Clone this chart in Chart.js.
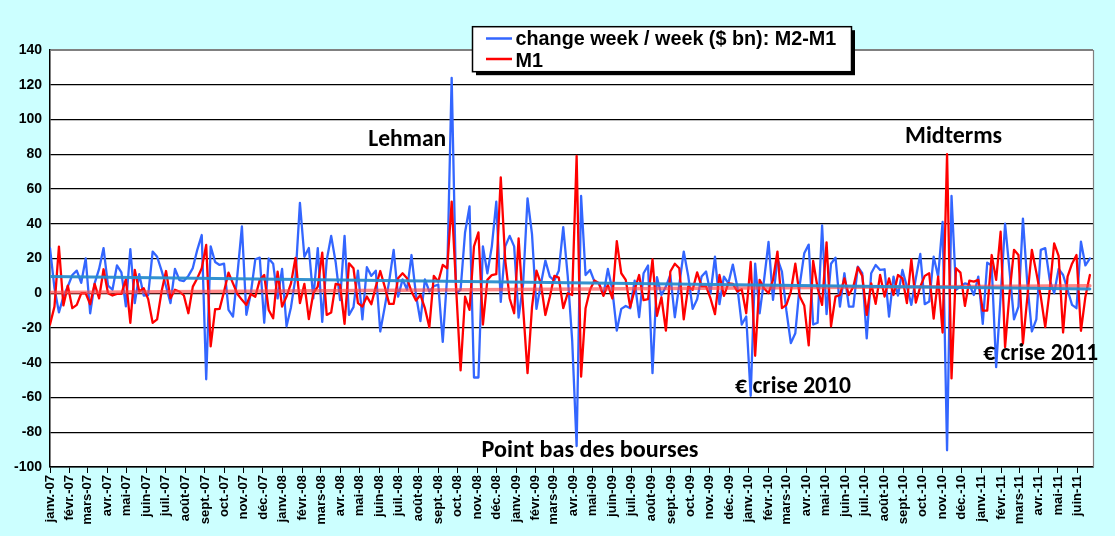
<!DOCTYPE html>
<html><head><meta charset="utf-8">
<script src="https://cdn.jsdelivr.net/npm/chart.js@4.4.0/dist/chart.umd.min.js"></script>
<style>html,body{margin:0;padding:0;background:#CCFFFF;}canvas{display:block;}</style>
</head><body>
<canvas id="c" width="1115" height="536" style="width:1115px;height:536px"></canvas>
<script>
// Month tick labels (x axis), weekly observations start 1 Jan 2007
const monthLabels = ["janv.-07","févr.-07","mars-07","avr.-07","mai-07","juin-07","juil.-07","août-07","sept.-07","oct.-07","nov.-07","déc.-07",
"janv.-08","févr.-08","mars-08","avr.-08","mai-08","juin-08","juil.-08","août-08","sept.-08","oct.-08","nov.-08","déc.-08",
"janv.-09","févr.-09","mars-09","avr.-09","mai-09","juin-09","juil.-09","août-09","sept.-09","oct.-09","nov.-09","déc.-09",
"janv.-10","févr.-10","mars-10","avr.-10","mai-10","juin-10","juil.-10","août-10","sept.-10","oct.-10","nov.-10","déc.-10",
"janv.-11","févr.-11","mars-11","avr.-11","mai-11","juin-11"];
const startYear = 2007;

// change week / week ($ bn): M2-M1
const m2m1 = [
26,3,-11,-2,4,10.5,13,6,20,-11.5,
5.7,14,26,4.4,2,16,12,-7.6,25.4,-5.7,
11,-1.3,-1,24,21,13,4,-5.7,14,7.6,
7,10,14.5,25,33.5,-49.5,27,18,16.3,17,
-9.6,-13.4,11,38.5,-12.4,0,19.5,20.5,-17,20,
17,-3,14,-19,-8,9,52,21,26,-3,
26,-16.5,19,33,18,-4,33,-12.5,-8,13,
-15,15,10,13,-22,-8,7,25,-2,8,
2,22,-1,-16,8,1,4,5,-28,10,
124,0,2,35,50,-48.5,-48.5,27,11.5,27,
52.7,-5,27,33,27,-14,5,54.6,34,-9,
5.4,18.8,9.6,7.3,13,38,10,-27,-88,56,
10.5,13.4,6.7,5.7,-1,14,2,-21.5,-9,-7.3,
-8.6,7.3,-13.8,11.5,16,-46,9.2,-1,3.8,10.5,
-13.8,5,24,10,-9,-3.4,9.6,12.5,0,21,
-6.3,9.6,5.7,16.5,3.8,-18,-13.4,-59,17,-11.5,
7.7,29.5,-3.8,20,12.5,-10,-28.7,-23,5,23,
28,-18,-17,39,-12,17,20.5,-7.7,11.5,-7.7,
-7.7,15.3,11.5,-26,11.5,16.3,13.4,13.8,-13.4,9.6,
-1.3,13.4,3.8,-6.7,8.6,22.6,-6.3,-4.8,21,9.6,
41,-90.4,56,2,3.8,5.7,5,-1,9.6,-17.6,
17.6,16,-42.5,-2,40,13,-15,-7.7,43,5,
-22,-15,25,26,7.7,0,14,10.5,2,-6.7,
-8.6,29.7,16,20];

// M1
const m1 = [
-18,-7.7,26.8,-7,4.4,-8.6,-6.7,0,0,-6.3,
5.4,-2.9,13.8,0,-1.3,-0.4,-0.4,8,-17,13.4,
1,2.9,-3.4,-17,-15,1,12.8,-2.9,2,1,
-1.3,-11.5,3.8,8.6,14.4,27.8,-30.6,-9.2,-9,1,
11.9,5.7,-0.4,-3.8,-6.7,-0.4,-2,7.7,10.5,-9.6,
-14.4,12.5,-7.7,-1.9,5.7,20.3,-5.7,5.4,-14.9,0,
3.8,23.4,-12.5,-11.1,5.4,4.8,-17.6,17.2,14.4,-5.7,
-7.7,-1.9,-6.3,3.8,12.8,3.8,-6.1,-6.1,8.6,11.5,
8.6,1,-4.2,-1,-8.6,-19.5,10,6.7,16.3,14.4,
52.7,3,-44.4,-2,-9.6,27,35,-18,7.7,10.5,
11,66.7,19,-3,-11.5,31.6,-8,-46,-8,13,
5.4,-12.5,-2,10,9,-8.6,0,-1,79,-48,
-8.6,2,7.3,5.7,-1.5,4.8,-3,30,11.5,7.7,
-8,2,10.5,-4,-3.4,19.5,-13,-2.3,-21.5,12.5,
17,14.4,-15,3.8,2,12,4,4,-3,-12,
10.5,-1.5,5.7,5.4,1,2.3,-11.5,18,-36,7.7,
2.9,0,7.7,24,-8.6,-6.7,1,17,-1.9,-7,
-30,18.6,2.9,-6.7,29.3,-19,-1.9,-1,8.6,-1,
3.8,14.9,10,-12.5,5.7,-6.1,10.5,-1.9,8.6,-1,
10.5,8.6,-5.7,19.5,-5.4,3.8,10,11.5,-14.6,9.6,
-22.6,80,-49,14.4,11.9,-7.3,7.3,6.7,7.7,-10,
-10,22,7.7,35.4,-31,0,25,22,-29,-1.9,
25,12,-1.9,-19.5,2,28.7,21.5,-22.6,9.6,17,
22,-21.6,-2,10.5];

// linear trend lines (start value, end value)
const trendM2M1 = [9.6, 2.5];
const trendM1 = [0.4, 4.3];

// y axis ticks
const yMin = -100, yMax = 140, yStep = 20;

const legendLabels = ["change week / week ($ bn): M2-M1", "M1"];

const annotations = [
  {text:"Lehman", week:71.3, value:84.8, width:78},
  {text:"Midterms", week:191.6, value:86.3, width:97},
  {text:"Point bas des bourses", week:96.7, value:-94, width:217},
  {text:"€ crise 2010", week:153.5, value:-57.6, width:116},
  {text:"€ crise 2011", week:209.1, value:-38.4, width:115}
];

const DAY = 86400000;
const t0 = Date.UTC(startYear, 0, 1);
const monthPos = monthLabels.map((l, k) => (Date.UTC(startYear, k, 1) - t0) / (7 * DAY));
const lastWeek = m2m1.length - 1;

const toXY = arr => arr.map((v, i) => ({x: i, y: v}));
const trendXY = tr => [{x: 0, y: tr[0]}, {x: lastWeek, y: tr[1]}];

const BLUE = 'rgb(51,102,255)';
const RED = 'rgb(255,0,0)';
const ARIAL = "'Liberation Sans', Arial, sans-serif";
const CALIB = "Carlito, Lato, 'Open Sans', sans-serif";

function fitFont(ctx, text, family, target) {
  ctx.font = 'bold 20px ' + family;
  const w = ctx.measureText(text).width;
  return 20 * target / w;
}

const bgPlugin = {
  id: 'bg',
  beforeDraw(chart) {
    const {ctx, chartArea: a} = chart;
    ctx.save();
    ctx.fillStyle = '#CCFFFF';
    ctx.fillRect(0, 0, chart.width, chart.height);
    ctx.fillStyle = '#FFFFFF';
    ctx.fillRect(a.left, a.top, a.right - a.left, a.bottom - a.top);
    ctx.restore();
  },
  afterDraw(chart) {
    const {ctx, chartArea: a, scales} = chart;
    ctx.save();
    // plot border top & right (gray)
    ctx.strokeStyle = '#808080';
    ctx.lineWidth = 1.2;
    ctx.beginPath();
    ctx.moveTo(a.left, a.top + 0.5);
    ctx.lineTo(a.right + 0.5, a.top + 0.5);
    ctx.lineTo(a.right + 0.5, a.bottom);
    ctx.stroke();

    // annotations
    ctx.fillStyle = '#000';
    ctx.textBaseline = 'alphabetic';
    ctx.textAlign = 'left';
    annotations.forEach(an => {
      const size = fitFont(ctx, an.text, CALIB, an.width);
      ctx.font = 'bold ' + size.toFixed(2) + 'px ' + CALIB;
      ctx.fillText(an.text, scales.x.getPixelForValue(an.week), scales.y.getPixelForValue(an.value));
    });

    // legend box with shadow
    const L = 472.5, T = 26.7, W = 379, H = 45;
    ctx.fillStyle = '#000';
    ctx.fillRect(L + 3.5, T + 3.5, W, H);
    ctx.fillStyle = '#fff';
    ctx.fillRect(L, T, W, H);
    ctx.strokeStyle = '#000';
    ctx.lineWidth = 1.5;
    ctx.strokeRect(L, T, W, H);
    const rows = [[BLUE, 38.5, 45], [RED, 59, 66.5]];
    const fs = fitFont(ctx, legendLabels[0], ARIAL, 321);
    rows.forEach((r, i) => {
      ctx.strokeStyle = r[0];
      ctx.lineWidth = 2.5;
      ctx.beginPath();
      ctx.moveTo(486, r[1]);
      ctx.lineTo(512, r[1]);
      ctx.stroke();
      ctx.fillStyle = '#000';
      ctx.font = 'bold ' + fs.toFixed(2) + 'px ' + ARIAL;
      ctx.fillText(legendLabels[i], 515.5, r[2]);
    });
    ctx.restore();
  }
};

new Chart(document.getElementById('c'), {
  type: 'line',
  data: {
    datasets: [
      {label: 'trendM2M1', data: trendXY(trendM2M1), borderColor: 'rgba(40,140,205,0.95)', borderWidth: 3, order: 0},
      {label: 'trendM1', data: trendXY(trendM1), borderColor: 'rgba(255,70,70,0.65)', borderWidth: 3.5, order: 0},
      {label: legendLabels[1], data: toXY(m1), borderColor: RED, borderWidth: 2.3, order: 1},
      {label: legendLabels[0], data: toXY(m2m1), borderColor: BLUE, borderWidth: 2.3, order: 2}
    ]
  },
  options: {
    responsive: false,
    animation: false,
    devicePixelRatio: 1,
    layout: {padding: {top: 50, right: 22, left: 0, bottom: 0}},
    elements: {point: {radius: 0}, line: {tension: 0, borderJoinStyle: 'round', borderCapStyle: 'round'}},
    plugins: {legend: {display: false}, tooltip: {enabled: false}},
    scales: {
      x: {
        type: 'linear',
        min: 0,
        max: lastWeek + 0.7,
        afterBuildTicks: s => { s.ticks = monthPos.map(v => ({value: v})); },
        afterFit: s => { s.height = 69; },
        ticks: {
          autoSkip: false, minRotation: 90, maxRotation: 90, padding: 2,
          color: '#000', font: {family: ARIAL, size: 13, weight: 'bold'},
          callback: (v, i) => monthLabels[i]
        },
        grid: {drawOnChartArea: false, drawTicks: true, tickLength: 6, color: '#000', lineWidth: 1},
        border: {color: '#000', width: 1.5}
      },
      y: {
        min: yMin, max: yMax,
        afterFit: s => { s.width = 50; },
        ticks: {stepSize: yStep, padding: 8, color: '#000', font: {family: ARIAL, size: 14, weight: 'bold'}},
        grid: {drawTicks: false, lineWidth: 1.2, color: c => (c.tick && c.tick.value === yMax) ? '#808080' : '#000'},
        border: {color: '#000', width: 1.5}
      }
    }
  },
  plugins: [bgPlugin]
});
</script>
</body></html>
